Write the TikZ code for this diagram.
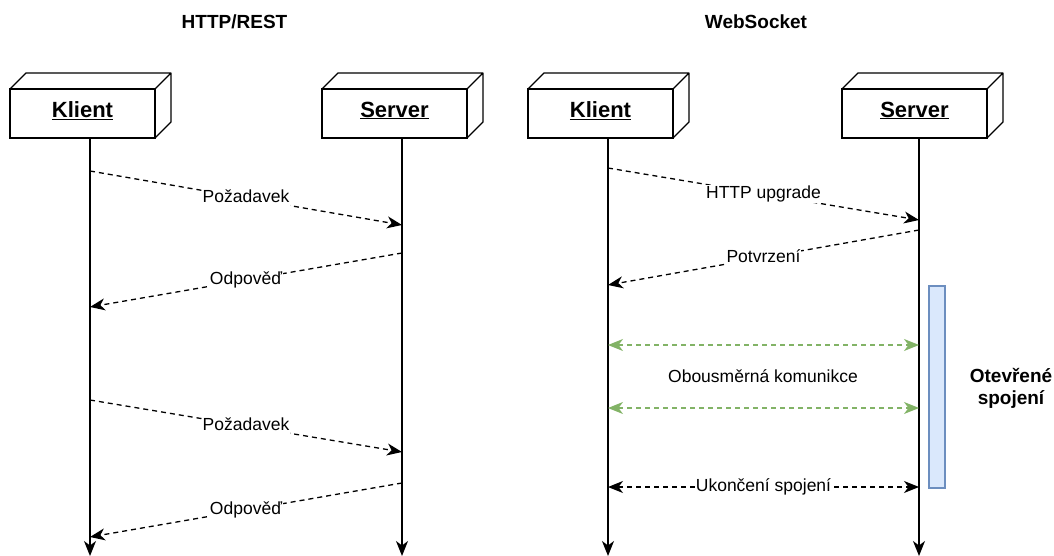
\documentclass[tikz,border=0pt]{standalone}
\usepackage{fontspec}
\setmainfont{Liberation Sans}
\usetikzlibrary{arrows.meta}
\definecolor{grn}{HTML}{82B366}
\definecolor{bfill}{HTML}{DAE8FC}
\definecolor{bdraw}{HTML}{6C8EBF}
\begin{document}
\begin{tikzpicture}[x=1pt,y=-1pt,
  box/.style={draw, line width=1.3pt, minimum width=145pt, minimum height=49pt, inner sep=0pt, outer sep=0pt},
  boxtxt/.style={font=\fontsize{22}{26}\selectfont\bfseries, inner sep=0pt},
  edge/.style={line width=1.3pt, line join=round},
  msg/.style={line width=1.3pt, dash pattern=on 5pt off 4pt, -{Stealth[length=15pt,width=12pt,inset=4.5pt]}},
  bimsg/.style={line width=1.3pt, dash pattern=on 5pt off 4pt, {Stealth[length=15pt,width=12pt,inset=4.5pt]}-{Stealth[length=15pt,width=12pt,inset=4.5pt]}},
  life/.style={line width=1.4pt, -{Stealth[length=15pt,width=12pt,inset=4.5pt]}},
  lbl/.style={fill=white, inner sep=1pt, text height=12.5pt, text depth=3.5pt, font=\fontsize{17.5}{20}\selectfont},
  ttl/.style={font=\fontsize{19}{22}\selectfont\bfseries, align=center}]
\useasboundingbox (0,0) rectangle (1054,556);

% titles
\node[ttl] (t1) at (234.5,22) {HTTP/REST};
\node[ttl] (t2) at (756,22) {WebSocket};

% boxes
\node[box] (k1) at (82.5,113.5) {};
\node[box] (s1) at (394.5,113.5) {};
\node[box] (k2) at (600.5,113.5) {};
\node[box] (s2) at (914.5,113.5) {};
\node[boxtxt] (k1t) at (82.5,110.5) {\underline{Klient}};
\node[boxtxt] (s1t) at (394.5,110.5) {\underline{Server}};
\node[boxtxt] (k2t) at (600.5,110.5) {\underline{Klient}};
\node[boxtxt] (s2t) at (914.5,110.5) {\underline{Server}};
\foreach \n in {k1,s1,k2,s2} {
  \draw[edge] (\n.north west) -- ++(16,-16) -- ++(145,0) -- ++(0,49) -- ++(-16,16)
              (\n.north east) -- ++(16,-16);
}

% lifelines
\coordinate (lt1) at (90,138);  \coordinate (lb1) at (90,556);
\coordinate (lt2) at (402,138); \coordinate (lb2) at (402,556);
\coordinate (lt3) at (608,138); \coordinate (lb3) at (608,556);
\coordinate (lt4) at (919,138); \coordinate (lb4) at (919,556);
\foreach \i in {1,2,3,4} { \draw[life] (lt\i) -- (lb\i); }

% open connection bar
\node[draw=bdraw, fill=bfill, line width=1.1pt, minimum width=16pt, minimum height=202pt, inner sep=0pt] (bar) at (937,387) {};
\node[ttl] (open) at (1011,388) {Otevřené\\spojení};

% HTTP/REST messages
\coordinate (a1) at (90,171);  \coordinate (a2) at (402,225);
\coordinate (b1) at (402,253); \coordinate (b2) at (90,307);
\coordinate (c1) at (90,400);  \coordinate (c2) at (402,452);
\coordinate (d1) at (402,483); \coordinate (d2) at (90,537);
\draw[msg] (a1) -- node[lbl] {Požadavek} (a2);
\draw[msg] (b1) -- node[lbl] {Odpověď} (b2);
\draw[msg] (c1) -- node[lbl] {Požadavek} (c2);
\draw[msg] (d1) -- node[lbl] {Odpověď} (d2);

% WebSocket messages
\coordinate (e1) at (608,168); \coordinate (e2) at (919,220);
\coordinate (f1) at (919,230); \coordinate (f2) at (608,285);
\coordinate (g1) at (608,345); \coordinate (g2) at (919,345);
\coordinate (h1) at (608,408); \coordinate (h2) at (919,408);
\coordinate (i1) at (608,487); \coordinate (i2) at (919,487);
\draw[msg] (e1) -- node[lbl] {HTTP upgrade} (e2);
\draw[msg] (f1) -- node[lbl] {Potvrzení} (f2);
\draw[bimsg, grn] (g1) -- (g2);
\draw[bimsg, grn] (h1) -- (h2);
\node[lbl, fill=none] (obo) at (763,378) {Obousměrná komunikce};
\draw[bimsg] (i1) -- node[lbl] {Ukončení spojení} (i2);
\end{tikzpicture}
\end{document}
